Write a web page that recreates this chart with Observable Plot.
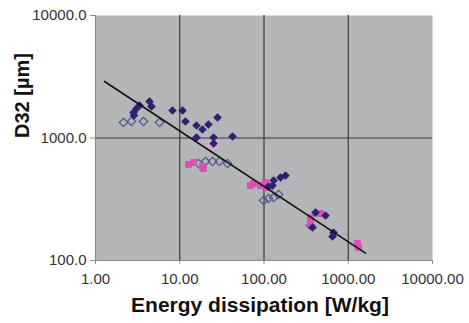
<!DOCTYPE html>
<html>
<head>
<meta charset="utf-8">
<script src="https://cdn.jsdelivr.net/npm/d3@7"></script>
<script src="https://cdn.jsdelivr.net/npm/@observablehq/plot@0.6"></script>
<style>
  html, body { margin: 0; padding: 0; background: #ffffff; }
  #chart { width: 469px; height: 323px; }
</style>
</head>
<body>
<div id="chart"></div>
<script>
// Tick values
const xTicks = [1, 10, 100, 1000, 10000];
const yTicks = [100, 1000, 10000];
const gridX = [10, 100, 1000];
const gridY = [1000];

// Series: filled dark diamonds
const filledX = [2.83, 2.86, 3.07, 3.33, 4.38, 4.62, 8.2, 10.8, 11.7, 15.8, 18.6, 21.9, 28.1, 15.8, 25.2, 25.2, 42.3, 113, 126, 130, 157, 180, 377, 409, 537, 650, 668];
const filledY = [1615, 1527, 1741, 1842, 1986, 1808, 1676, 1676, 1364, 1265, 1173, 1289, 1470, 1009, 1009, 902, 1028, 402, 409, 450, 476, 494, 186, 246, 233, 157, 169];

// Series: pink filled squares
const pinkX = [12.7, 14.6, 18.6, 19.1, 69, 75, 91, 104, 110, 356, 356, 469, 1288, 1324];
const pinkY = [608, 631, 585, 564, 409, 425, 409, 433, 394, 224, 200, 242, 138, 128];

// Series: open diamonds
const openX = [2.15, 2.67, 3.71, 5.75, 16.7, 20.2, 24.5, 29.6, 36.9, 98.7, 113, 130, 149, 356];
const openY = [1339, 1364, 1364, 1339, 619, 643, 643, 643, 619, 309, 321, 327, 346, 193];

// Series: open light-pink squares
const openPinkX = [20, 26];
const openPinkY = [880, 880];

// Power-law fit line endpoints
const fitX = [1.28, 1600];
const fitY = [2890, 115];

const xTitle = "Energy dissipation [W/kg]";
const yTitle = "D32 [µm]";

const pts = (xs, ys) => xs.map((x, i) => ({x, y: ys[i]}));

const chart = Plot.plot({
  width: 469,
  height: 323,
  marginLeft: 95,
  marginRight: 37,
  marginTop: 15,
  marginBottom: 63,
  style: {fontFamily: "'Liberation Sans', Arial, sans-serif", fontSize: "15px", background: "#ffffff", overflow: "visible"},
  x: {type: "log", domain: [1, 10000]},
  y: {type: "log", domain: [100, 10000]},
  marks: [
    Plot.frame({fill: "#b3b5b7", stroke: null}),
    Plot.ruleX(gridX, {stroke: "#3a3a3a", strokeWidth: 1.2}),
    Plot.ruleY(gridY, {stroke: "#3a3a3a", strokeWidth: 1.2}),
    Plot.ruleX([1], {stroke: "#8c8c8c", strokeWidth: 1.2}),
    Plot.ruleY([100], {stroke: "#8c8c8c", strokeWidth: 1.2}),
    Plot.axisX({ticks: xTicks, tickFormat: d => d.toFixed(2), tickSize: 4, tickPadding: 9, stroke: "#8c8c8c", fill: "#333333", label: null, fontSize: 15}),
    Plot.axisY({ticks: yTicks, tickFormat: d => d.toFixed(1), tickSize: 5, tickPadding: 4, stroke: "#8c8c8c", fill: "#333333", label: null, fontSize: 15}),
    Plot.dot(pts(openPinkX, openPinkY), {x: "x", y: "y", symbol: "square", r: 4, stroke: "#e6a6d6", strokeWidth: 1.2, fill: "none"}),
    Plot.dot(pts(openX, openY), {x: "x", y: "y", symbol: "diamond2", r: 3.8, stroke: "#55588a", strokeWidth: 1.2, fill: "none"}),
    Plot.dot(pts(pinkX, pinkY), {x: "x", y: "y", symbol: "square", r: 3.9, fill: "#de4fb6", stroke: "none"}),
    Plot.dot(pts(filledX, filledY), {x: "x", y: "y", symbol: "diamond2", r: 3.9, fill: "#2c2274", stroke: "none"}),
    Plot.line(pts(fitX, fitY), {x: "x", y: "y", stroke: "#111111", strokeWidth: 1.6}),
    Plot.text([xTitle], {frameAnchor: "bottom", dx: -4, dy: 45, lineAnchor: "middle", fontWeight: "bold", fontSize: 21, fill: "#111111"}),
    Plot.text([yTitle], {frameAnchor: "left", dx: -73, dy: 0, rotate: -90, lineAnchor: "middle", fontWeight: "bold", fontSize: 20, fill: "#111111"})
  ]
});
document.getElementById("chart").appendChild(chart);
</script>
</body>
</html>
